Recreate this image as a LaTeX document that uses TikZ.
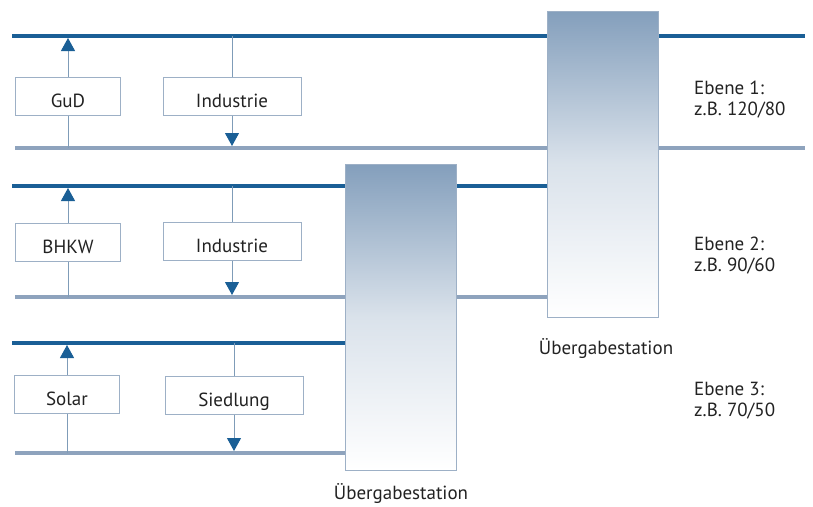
\documentclass[tikz,border=0pt]{standalone}
\usepackage{fontspec}
\setmainfont{PT Sans}
\usetikzlibrary{arrows.meta}

\definecolor{busdark}{HTML}{1A5F96}
\definecolor{buslight}{HTML}{8EA3BD}
\definecolor{wirecol}{HTML}{7F9CB8}
\definecolor{framecol}{HTML}{9DB0C6}
\definecolor{stationtop}{HTML}{849FBC}
\definecolor{textcol}{HTML}{222222}

\begin{document}
\begin{tikzpicture}[x=1pt,y=-1pt,
	supplynode/.style={rectangle, draw=framecol, fill=white, line width=1pt, minimum width=105pt, minimum height=38pt, inner sep=0pt, text height=23pt, text depth=0pt, font=\fontsize{19}{21}\selectfont, text=textcol},
	usernode/.style={supplynode, minimum width=138pt},
	stationnode/.style={rectangle, draw=framecol, line width=1pt, top color=stationtop, bottom color=white, middle color=stationtop!30, anchor=north west},
	hot/.style={busdark, line width=4pt},
	cold/.style={buslight, line width=4pt},
	wire/.style={wirecol, line width=1pt},
	feed/.style={wire, -{Triangle[width=14pt,length=13pt,busdark]}},
	labelnode/.style={align=left, anchor=west, font=\fontsize{19}{21}\selectfont, text=textcol, inner sep=0pt},
	]
	\useasboundingbox (0,0) rectangle (813,506);
	%Buses
	\draw[hot]  (12,36)  coordinate (h1w) -- (805,36)  coordinate (h1e);
	\draw[cold] (15,148) coordinate (c1w) -- (805,148) coordinate (c1e);
	\draw[hot]  (12,186) coordinate (h2w) -- (547,186) coordinate (h2e);
	\draw[cold] (15,297) coordinate (c2w) -- (547,297) coordinate (c2e);
	\draw[hot]  (12,343) coordinate (h3w) -- (345,343) coordinate (h3e);
	\draw[cold] (15,453) coordinate (c3w) -- (345,453) coordinate (c3e);
	
	%Stations
	\node[stationnode, minimum width=111pt, minimum height=306pt] (st1) at (547,11) {};
	\node[stationnode, minimum width=111pt, minimum height=306pt] (st2) at (345,164) {};
	\node[font=\fontsize{19}{21}\selectfont, text=textcol] (st1l) at (606,349) {Übergabestation};
	\node[font=\fontsize{19}{21}\selectfont, text=textcol] (st2l) at (401,494) {Übergabestation};
	
	%Nodes
	\node[supplynode] (gud)   at (68,96)   {GuD};
	\node[usernode]   (ind1)  at (232,96)  {Industrie};
	\node[supplynode] (bhkw)  at (68,242)  {BHKW};
	\node[usernode]   (ind2)  at (232,241) {Industrie};
	\node[supplynode] (solar) at (67,394)  {Solar};
	\node[usernode]   (sied)  at (234,395) {Siedlung};
	
	%Taps on the buses
	\coordinate (gudc) at (68,148);   \coordinate (gudh) at (68,38);
	\coordinate (ind1h) at (232,36);  \coordinate (ind1c) at (232,146);
	\coordinate (bhkwc) at (68,297);  \coordinate (bhkwh) at (68,188);
	\coordinate (ind2h) at (232,186); \coordinate (ind2c) at (232,295);
	\coordinate (solarc) at (67,453); \coordinate (solarh) at (67,345);
	\coordinate (siedh) at (234,343); \coordinate (siedc) at (234,451);
	
	%Lines
	\draw[wire] (gudc) -- (gud);
	\draw[feed] (gud) -- (gudh);
	\draw[wire] (ind1h) -- (ind1);
	\draw[feed] (ind1) -- (ind1c);
	\draw[wire] (bhkwc) -- (bhkw);
	\draw[feed] (bhkw) -- (bhkwh);
	\draw[wire] (ind2h) -- (ind2);
	\draw[feed] (ind2) -- (ind2c);
	\draw[wire] (solarc) -- (solar);
	\draw[feed] (solar) -- (solarh);
	\draw[wire] (siedh) -- (sied);
	\draw[feed] (sied) -- (siedc);
	
	%Levels
	\node[labelnode] (lev1) at (694,100) {Ebene 1:\\z.B. 120/80};
	\node[labelnode] (lev2) at (694,256) {Ebene 2:\\z.B. 90/60};
	\node[labelnode] (lev3) at (694,401) {Ebene 3:\\z.B. 70/50};
\end{tikzpicture}
\end{document}
